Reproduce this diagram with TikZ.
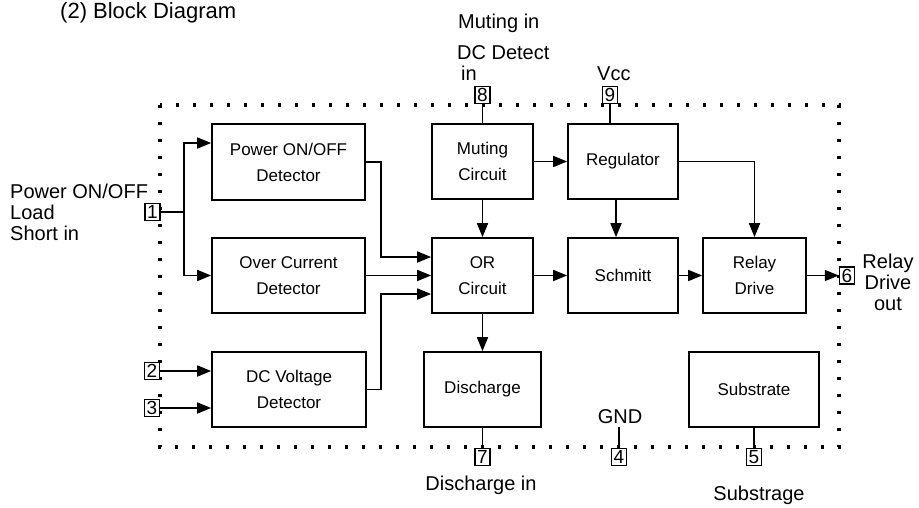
\documentclass[tikz,border=0pt]{standalone}
\usepackage{fontspec}
\setmainfont{Liberation Sans}
\usetikzlibrary{arrows.meta,calc}
\begin{document}
\begin{tikzpicture}[x=1pt,y=-1pt,
  blk/.style={draw,line width=1.7pt,inner sep=0pt,align=center,font=\fontsize{17}{26}\selectfont},
  pin/.style={draw,fill=white,line width=1.5pt,minimum width=15pt,minimum height=17pt,inner sep=0pt,font=\fontsize{19}{19}\selectfont},
  lbl/.style={inner sep=0pt,font=\fontsize{20}{21}\selectfont},
  wire/.style={line width=1.7pt},
  arr/.style={wire,-{Triangle[length=14pt,width=11pt]}},
  border/.style={line width=3.4pt,dash pattern=on 3.4pt off 13.6pt}]
\useasboundingbox (0,0) rectangle (919,507);

% title
\node[inner sep=0pt,anchor=base west,font=\fontsize{22}{22}\selectfont] (title) at (60,18) {(2) Block Diagram};

% border
\draw[border] (160,105) rectangle (839,447);

% blocks
\node[blk,minimum width=153pt,minimum height=76pt] (pod) at (288.5,162) {Power ON/OFF\\Detector};
\node[blk,minimum width=153pt,minimum height=75pt] (ocd) at (288.5,275.5) {Over Current\\Detector};
\node[blk,minimum width=154pt,minimum height=75pt] (dcv) at (289,389.5) {DC Voltage\\Detector};
\node[blk,minimum width=101pt,minimum height=75pt] (mute) at (482.5,161.5) {Muting\\Circuit};
\node[blk,minimum width=110pt,minimum height=75pt] (reg) at (623,161.5) {Regulator};
\node[blk,minimum width=101pt,minimum height=75pt] (orc) at (482.5,275.5) {OR\\Circuit};
\node[blk,minimum width=110pt,minimum height=75pt] (sch) at (623,275.5) {Schmitt};
\node[blk,minimum width=103pt,minimum height=75pt] (rly) at (754.5,275.5) {Relay\\Drive};
\node[blk,minimum width=117pt,minimum height=75pt] (dis) at (482.5,389.5) {Discharge};
\node[blk,minimum width=130pt,minimum height=75pt] (sub) at (754,389.5) {Substrate};

% pins
\node[pin] (p1) at (152.5,212) {1};
\node[pin] (p2) at (152,371) {2};
\node[pin] (p3) at (152,408) {3};
\node[pin] (p8) at (482.5,95) {8};
\node[pin] (p9) at (610,95) {9};
\node[pin] (p6) at (847,275.5) {6};
\node[pin] (p7) at (482.5,457) {7};
\node[pin] (p4) at (619,457) {4};
\node[pin] (p5) at (754,457) {5};

% labels
\node[lbl,anchor=base west] (lpow) at (10,198) {Power ON/OFF};
\node[lbl,anchor=base west] (lload) at (10,219) {Load};
\node[lbl,anchor=base west] (lshort) at (10,240) {Short in};
\node[lbl,anchor=base west] (lmute) at (458,28) {Muting in};
\node[lbl,anchor=base west] (ldc) at (457,59) {DC Detect};
\node[lbl,anchor=base west] (ldcin) at (461,80) {in};
\node[lbl,anchor=base west] (lvcc) at (597,80) {Vcc};
\node[lbl,anchor=base] (lrel) at (888,268) {Relay};
\node[lbl,anchor=base] (ldrv) at (888,289) {Drive};
\node[lbl,anchor=base] (lout) at (888,310) {out};
\node[lbl,anchor=base] (lgnd) at (620,423) {GND};
\node[lbl,anchor=base] (ldis) at (481,490) {Discharge in};
\node[lbl,anchor=base] (lsub) at (759,500) {Substrage};

% connectors
\coordinate (j1) at (184,212);
\draw[wire] (p1.east) -- (j1);
\draw[arr] (j1) |- (pod.west |- 0,143);
\draw[arr] (j1) |- (ocd.west);
\draw[arr] (pod.east) -| (381,230) |- (orc.west |- 0,257);
\draw[arr] (ocd.east) -- (orc.west);
\draw[arr] (dcv.east) -| (381,330) |- (orc.west |- 0,294);
\draw[arr] (p2.east) -- (dcv.west |- p2.east);
\draw[arr] (p3.east) -- (dcv.west |- p3.east);

\draw[wire] (p8.south) -- (mute.north);
\draw[wire] (p9.south) -- (p9.south |- reg.north);
\draw[arr] (mute.east) -- (reg.west);
\draw[arr] (mute.south) -- (orc.north);
\draw[arr] (reg.south -| 616,0) -- (sch.north -| 616,0);
\draw[arr] (reg.east) -| (rly.north);
\draw[arr] (orc.east) -- (sch.west);
\draw[arr] (sch.east) -- (rly.west);
\draw[arr] (rly.east) -- (p6.west);
\draw[arr] (orc.south) -- (dis.north);
\draw[wire] (dis.south) -- (p7.north);
\draw[wire] (sub.south) -- (p5.north);
\draw[wire] (p4.north) -- ++(0,-21);
\end{tikzpicture}
\end{document}
